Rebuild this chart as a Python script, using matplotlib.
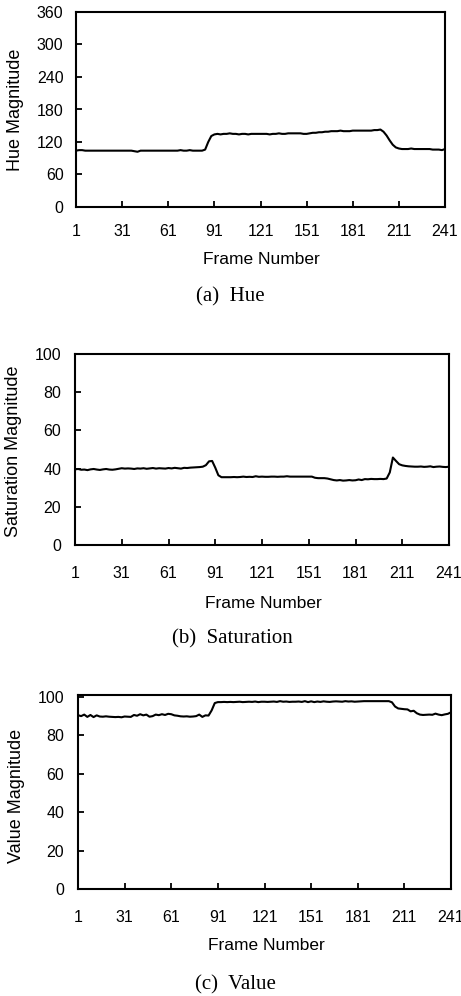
import numpy as np
import matplotlib
matplotlib.use('Agg')
from matplotlib import pyplot as plt

W, H = 461, 996

# frame numbers 1, 3, 5, ..., 241
frames = np.arange(1, 242, 2)

hue = [
    104, 105, 105, 104, 104, 104, 104, 104, 104, 104,
    104, 104, 104, 104, 104, 104, 104, 104, 104, 103,
    102, 104, 104, 104, 104, 104, 104, 104, 104, 104,
    104, 104, 104, 104, 105, 104, 104, 105, 104, 104,
    104, 104, 106, 120, 131, 134, 135, 134, 135, 135,
    136, 135, 135, 134, 135, 135, 134, 135, 135, 135,
    135, 135, 135, 134, 135, 135, 136, 135, 135, 136,
    136, 136, 136, 136, 135, 135, 136, 137, 137, 138,
    138, 139, 139, 140, 140, 140, 141, 140, 140, 140,
    141, 141, 141, 141, 141, 141, 141, 142, 142, 143,
    139, 132, 123, 115, 110, 108, 107, 107, 107, 108,
    107, 107, 107, 107, 107, 107, 106, 106, 106, 105,
    107,
]

saturation = [
    39.6, 39.8, 39.4, 39.5, 39.2, 39.6, 39.8, 39.5, 39.3, 39.6,
    39.8, 39.5, 39.4, 39.6, 39.9, 40.2, 40.0, 40.1, 40.0, 39.8,
    40.1, 40.0, 40.2, 39.9, 40.1, 40.3, 40.0, 40.2, 40.1, 40.0,
    40.3, 40.1, 40.4, 40.2, 40.0, 40.4, 40.3, 40.5, 40.6, 40.7,
    40.8, 41.0, 41.8, 43.8, 44.0, 40.5, 36.5, 35.5, 35.5, 35.5,
    35.5, 35.6, 35.5, 35.6, 35.8, 35.6, 35.7, 35.6, 36.0, 35.7,
    35.8, 35.7, 35.7, 35.8, 35.8, 35.7, 35.8, 35.8, 36.0, 35.8,
    35.8, 35.8, 35.8, 35.8, 35.8, 35.8, 35.8, 35.2, 35.0, 35.0,
    35.0, 34.8, 34.4, 34.0, 33.8, 34.0, 33.7, 33.8, 34.0, 33.8,
    33.9, 34.3, 34.0, 34.5, 34.4, 34.6, 34.5, 34.5, 34.6, 34.5,
    34.8, 38.0, 45.8, 44.0, 42.3, 41.7, 41.4, 41.2, 41.1, 41.0,
    41.0, 41.1, 40.9, 41.0, 41.2, 40.8, 41.0, 41.1, 40.9, 40.8,
    41.0,
]

value = [
    90.5, 90.0, 90.8, 89.6, 90.6, 89.5, 90.4, 89.8, 89.7, 89.9,
    89.7, 89.6, 89.5, 89.6, 89.4, 89.8, 89.7, 89.6, 90.6, 90.2,
    91.0, 90.4, 90.8, 89.7, 90.0, 90.8, 90.5, 91.0, 90.6, 91.2,
    91.0, 90.4, 90.2, 89.9, 89.8, 89.9, 89.7, 89.8, 90.0, 90.8,
    89.6, 90.4, 90.3, 93.0, 96.8, 97.3, 97.3, 97.4, 97.3, 97.4,
    97.3, 97.4, 97.5, 97.3, 97.4, 97.5, 97.4, 97.6, 97.3, 97.5,
    97.5, 97.4, 97.5, 97.6, 97.4, 97.8, 97.5, 97.6, 97.4, 97.5,
    97.5, 97.6, 97.4, 97.8, 97.3, 97.7, 97.3, 97.6, 97.4, 97.7,
    97.5, 97.4, 97.6, 97.7, 97.6, 97.5, 97.8, 97.6, 97.7, 97.5,
    97.6, 97.7, 97.8, 97.8, 97.8, 97.8, 97.8, 97.8, 97.8, 97.8,
    97.8, 97.2, 95.0, 94.0, 93.8, 93.6, 93.5, 92.5, 92.8, 91.5,
    90.8, 90.6, 90.7, 90.8, 90.7, 91.3, 90.8, 90.5, 90.9, 91.2,
    92.0,
]

xticks = [1, 31, 61, 91, 121, 151, 181, 211, 241]

panels = [
    # series, ymax, yticks, ylabel, caption, axes box (l, t, r, b) px,
    # ylabel pos, xlabel pos, caption pos, x pad, y pad
    (hue, 360, [0, 60, 120, 180, 240, 300, 360], 'Hue Magnitude', '(a)  Hue',
     (76, 12, 445, 207), (16, 110), (261, 259), (230, 297), 12, 9),
    (saturation, 100, [0, 20, 40, 60, 80, 100], 'Saturation Magnitude', '(b)  Saturation',
     (75, 354, 449, 545), (14, 451), (263, 603), (232, 639), 15, 10),
    (value, 101, [0, 20, 40, 60, 80, 100], 'Value Magnitude', '(c)  Value',
     (78, 695, 451, 889), (17, 796), (266, 945), (235, 985), 15, 10),
]

fig = plt.figure(figsize=(W / 100, H / 100), dpi=100)

sans = 'Liberation Sans'
serif = 'Liberation Serif'

for data, ymax, yticks, ylab, cap, box, ylpos, xlpos, cappos, xpad, ypad in panels:
    l, t, r, b = box
    ax = fig.add_axes([l / W, 1 - b / H, (r - l) / W, (b - t) / H])
    ax.plot(frames, data, color='black', lw=1.5)
    ax.set_xlim(1, 241)
    ax.set_ylim(0, ymax)
    ax.set_xticks(xticks)
    ax.set_yticks(yticks)
    ax.tick_params(direction='in', length=4, width=1.3, top=False, right=False,
                   labelsize=11.5)
    ax.tick_params(axis='x', pad=xpad)
    ax.tick_params(axis='y', pad=ypad)
    for lab in ax.get_xticklabels() + ax.get_yticklabels():
        lab.set_family(sans)
    for sp in ax.spines.values():
        sp.set_linewidth(1.5)

    fig.text(ylpos[0] / W, 1 - ylpos[1] / H, ylab, rotation=90, ha='center',
             va='center', family=sans, fontsize=13)
    fig.text(xlpos[0] / W, 1 - xlpos[1] / H, 'Frame Number', ha='center',
             va='center', family=sans, fontsize=12.5)
    fig.text(cappos[0] / W, 1 - cappos[1] / H, cap, ha='center',
             va='center', family=serif, fontsize=15)

fig.savefig('out.png', dpi=100)
